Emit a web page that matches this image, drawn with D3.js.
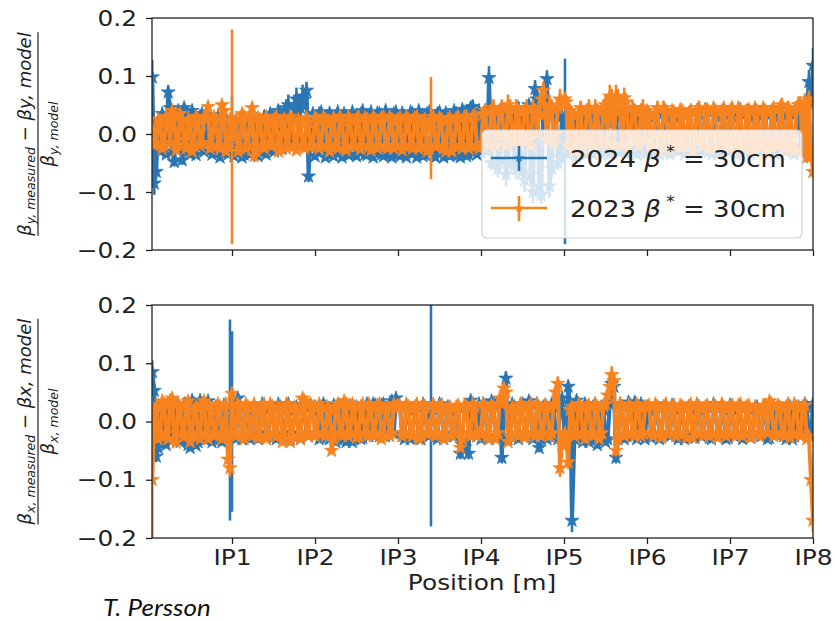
<!DOCTYPE html>
<html>
<head>
<meta charset="utf-8">
<script src="https://cdn.jsdelivr.net/npm/d3@7"></script>
<style>
  body { margin: 0; background: #fff; }
  svg { display: block; }
</style>
</head>
<body>
<svg id="chart" width="835" height="621"></svg>
<script>
// Interaction points and their longitudinal positions around the ring [m]
const ipLabels = ["IP1", "IP2", "IP3", "IP4", "IP5", "IP6", "IP7", "IP8"];
const ipPositions = [3332.4, 6664.9, 9997.3, 13329.8, 16662.2, 19994.6, 23327.1, 26659.5];
const xDomain = [120, 26659.5];
const yTicks = [-0.2, -0.1, 0.0, 0.1, 0.2];
const seriesNames = ["2024", "2023"];

// BPM positions [m], one row per arc/octant
const bpmPositions = [
  130, 210, 290, 370, 450, 530, 610, 690, 770, 850, 930, 1010, 1090, 1170, 1250, 1330, 1410, 1490, 1570, 1650,
  1730, 1810, 1890, 1970, 2050, 2130, 2210, 2290, 2370, 2450, 2530, 2610, 2690, 2770, 2850, 2930, 3010, 3090, 3170, 3250,
  3332, 3410, 3490, 3570, 3650, 3735, 3815, 3895, 3975, 4055, 4140, 4220, 4300, 4380, 4460, 4545, 4625, 4705, 4785, 4865,
  4950, 5030, 5110, 5190, 5270, 5355, 5435, 5515, 5595, 5675, 5760, 5840, 5920, 6000, 6080, 6165, 6245, 6325, 6405, 6485, 6580,
  6665, 6750, 6830, 6915, 7000, 7080, 7165, 7250, 7330, 7415, 7500, 7580, 7665, 7750, 7830, 7915, 8000, 8080, 8165, 8250,
  8330, 8415, 8500, 8580, 8665, 8750, 8830, 8915, 9000, 9080, 9165, 9250, 9330, 9415, 9500, 9580, 9665, 9750, 9830, 9915,
  9997, 10080, 10165, 10250, 10330, 10415, 10500, 10580, 10665, 10750, 10830, 10915, 11000, 11080, 11165, 11250, 11321, 11415, 11500, 11580,
  11665, 11750, 11830, 11915, 12000, 12080, 12165, 12250, 12330, 12415, 12500, 12580, 12665, 12750, 12830, 12915, 13000, 13080, 13165, 13250,
  13330, 13415, 13500, 13580, 13650, 13750, 13830, 13915, 14000, 14080, 14165, 14250, 14330, 14415, 14500, 14580, 14665, 14750, 14830, 14915,
  15000, 15080, 15165, 15250, 15330, 15415, 15500, 15580, 15665, 15750, 15830, 15915, 15978, 16080, 16165, 16250, 16330, 16415, 16500, 16580,
  16701, 16750, 16830, 16910, 16983, 17080, 17165, 17250, 17330, 17415, 17500, 17580, 17665, 17750, 17830, 17915, 18000, 18080, 18165, 18250,
  18330, 18415, 18500, 18580, 18665, 18750, 18830, 18915, 19000, 19080, 19165, 19250, 19330, 19415, 19500, 19580, 19665, 19750, 19830, 19915,
  19995, 20080, 20165, 20250, 20330, 20415, 20500, 20580, 20665, 20750, 20830, 20915, 21000, 21080, 21165, 21250, 21330, 21415, 21500, 21580,
  21665, 21750, 21830, 21915, 22000, 22080, 22165, 22250, 22330, 22415, 22500, 22580, 22665, 22750, 22830, 22915, 23000, 23080, 23165, 23250,
  23327, 23410, 23495, 23580, 23660, 23745, 23830, 23910, 23995, 24080, 24160, 24245, 24330, 24410, 24495, 24580, 24660, 24745, 24830, 24910,
  24995, 25080, 25160, 25245, 25330, 25410, 25495, 25580, 25660, 25745, 25830, 25910, 25995, 26080, 26160, 26245, 26330, 26410, 26495, 26580, 26659
];

// Vertical beta-beating (Δβy/βy), 2024
const betaY2024 = [
  .098, -.085, -.065, .02, -.03, .035, .01, -.035, .072, .045, -.03, -.048, .03, .04, -.02, -.045, .045, .03, -.03, -.035,
  .04, .02, -.036, -.02, .03, .035, -.03, -.01, .02, .03, -.035, -.025, .025, .03, -.04, -.03, .02, .028, -.035, -.03,
  .025, -.038, -.03, .015, .02, -.04, -.035, .01, .02, -.035, -.03, .015, .025, -.038, -.03, .02, .03, -.035, -.025, .035,
  .03, -.03, -.02, .04, .035, -.025, -.02, .045, .05, -.02, -.015, .05, .06, -.01, .045, .065, .06, .075, -.073, .0, .035,
  -.038, -.03, .035, .038, -.02, -.04, .03, .036, -.035, -.038, .02, .038, -.03, -.04, .035, .03, -.036, -.035, .038, .025,
  -.038, -.03, .034, .04, -.035, -.036, .02, .038, -.04, -.03, .036, .035, -.035, -.038, .04, .03, -.036, -.04, .035, .038,
  -.035, -.038, .036, .03, -.04, -.03, .038, .035, -.032, -.04, .04, .025, -.038, -.035, .035, .038, .03, -.036, -.04, .035,
  .038, -.03, -.04, .036, .03, -.038, -.035, .04, .035, -.036, -.04, .042, .03, -.038, -.035, .045, .047, -.03, -.035, .04,
  -.03, .035, .04, -.03, .097, -.05, .04, .035, -.06, -.045, .045, .03, -.07, -.05, .04, .035, -.055, -.06, .045, .03,
  -.065, -.08, .04, .05, -.07, -.1, .078, .06, -.09, -.105, .045, .05, .095, -.09, -.06, .04, .035, -.05, -.04, .03,
  -.03, .03, -.035, -.03, .035, .03, -.04, -.03, .028, .035, -.02, -.035, .03, .033, -.035, -.01, .03, .035, -.035, -.03,
  .035, .02, -.035, -.03, .03, .035, -.032, -.03, .032, .03, -.035, -.025, .035, .03, -.03, -.035, .035, .028, -.03, -.035,
  .035, .03, -.03, -.035, .03, .035, -.035, -.02, .038, .03, -.03, -.035, .035, .03, -.025, -.03, .03, .035, -.035, -.03,
  .035, .04, -.02, -.03, .04, .035, -.03, -.025, .042, .04, -.03, -.035, .04, .035, -.035, -.03, .03, .035, -.02, -.03,
  .035, .03, -.03, -.035, .04, .042, -.025, -.03, .035, .03, -.035, -.03, .03, .035, -.02, -.03, .032, .035, -.03, -.035,
  .035, .03, -.035, -.03, .03, .035, -.015, -.03, .033, .035, -.03, -.035, .04, .035, -.02, -.03, .04, .05, .09, .06, .118
];
const betaY2024Err = [
  .03, .02, .01, .006, .006, .005, .006, .006, .012, .008, .006, .008, .006, .006, .005, .008, .008, .006, .006, .006,
  .006, .005, .006, .006, .006, .006, .005, .006, .006, .006, .006, .005, .006, .006, .006, .006, .005, .006, .006, .006,
  .04, .006, .006, .005, .006, .006, .006, .005, .006, .006, .006, .005, .006, .006, .006, .005, .006, .006, .006, .008,
  .008, .006, .006, .01, .01, .006, .006, .015, .018, .006, .006, .018, .02, .006, .015, .02, .018, .015, .01, .005, .006,
  .006, .005, .006, .006, .005, .006, .006, .005, .006, .006, .006, .005, .006, .006, .005, .006, .006, .005, .006, .006,
  .006, .005, .006, .006, .005, .006, .006, .005, .006, .006, .006, .005, .006, .006, .005, .006, .006, .005, .006, .006,
  .006, .005, .006, .006, .005, .006, .006, .005, .006, .006, .006, .005, .006, .006, .005, .006, .006, .005, .006, .006,
  .006, .005, .006, .006, .005, .006, .006, .005, .006, .006, .006, .005, .006, .006, .005, .01, .012, .006, .006, .005,
  .006, .008, .01, .006, .02, .012, .01, .008, .015, .012, .01, .006, .02, .015, .008, .006, .015, .018, .01, .006,
  .015, .02, .008, .01, .018, .02, .015, .01, .02, .015, .008, .01, .015, .02, .012, .008, .006, .012, .01, .006,
  .16, .006, .005, .006, .006, .005, .006, .006, .005, .006, .006, .005, .006, .006, .005, .006, .006, .005, .006, .006,
  .006, .005, .006, .006, .005, .006, .006, .005, .006, .006, .006, .005, .006, .006, .005, .006, .006, .005, .006, .006,
  .006, .005, .006, .006, .005, .006, .006, .005, .006, .006, .006, .005, .006, .006, .005, .006, .006, .005, .006, .006,
  .006, .005, .006, .006, .005, .006, .006, .005, .006, .006, .006, .005, .006, .006, .005, .006, .006, .005, .006, .006,
  .006, .005, .006, .006, .005, .006, .006, .005, .006, .006, .006, .005, .006, .006, .005, .006, .006, .005, .006, .006,
  .006, .005, .006, .006, .005, .006, .006, .005, .006, .006, .006, .005, .006, .006, .005, .006, .008, .01, .02, .015, .03
];

// Vertical beta-beating (Δβy/βy), 2023
const betaY2023 = [
  .01, -.02, -.015, .025, .02, -.025, -.02, .03, .025, -.015, .04, .03, -.028, -.02, .035, .025, -.01, -.025, .025, .02,
  -.03, -.02, .03, .025, -.02, -.015, .03, .025, .047, -.025, -.02, .03, .025, -.02, -.025, .05, .04, -.03, -.02, .025,
  -.005, .02, .025, -.03, -.025, .035, .03, -.025, -.02, .03, .045, -.038, -.03, .028, .025, -.02, -.025, .03, .02, -.015,
  -.02, .025, .03, -.03, -.025, .02, .025, -.025, -.02, .03, .025, -.02, -.028, .025, .02, -.022, -.025, .028, .02, -.022, -.02,
  .028, .025, -.025, -.02, .03, .025, -.02, -.03, .02, .028, -.018, -.025, .03, .022, -.025, -.028, .03, .025, -.02, -.022,
  .025, .03, -.026, -.02, .028, .025, -.022, -.028, .03, .025, -.025, -.02, .028, .03, -.022, -.025, .03, .025, -.025, -.02,
  .025, .028, -.028, -.02, .03, .025, -.02, -.025, .028, .03, -.025, -.02, .02, .025, -.03, -.025, .01, .03, -.022, -.02,
  .028, .025, -.025, -.03, .025, .028, -.03, -.02, .027, .03, -.02, -.025, .03, .028, -.025, -.02, .03, .032, -.02, -.025,
  -.02, .035, .04, -.015, -.02, .04, .045, -.02, .0, .04, .045, -.01, -.02, .05, .045, .0, -.015, .045, .04, -.02,
  .0, .04, .045, -.01, -.02, .045, .04, .0, .035, .06, .075, .035, -.01, .05, .045, -.015, .0, .045, .06, .055,
  .06, .055, -.02, .04, .035, -.03, -.01, .035, .045, -.025, -.01, .04, .045, .0, -.02, .045, .04, -.02, -.01, .045,
  .05, -.015, .065, .06, -.02, .065, .06, .04, -.02, .062, .055, -.02, .0, .045, .04, -.01, -.02, .04, .045, -.01,
  .04, .035, -.02, .0, .035, .045, -.03, -.01, .045, .04, .0, -.025, .04, .038, -.015, -.02, .042, .04, -.02, .0,
  .035, .04, -.03, -.01, .04, .045, -.01, -.02, .04, .042, -.025, .0, .045, .04, -.02, -.01, .04, .045, -.02, .0,
  .04, .045, -.03, -.015, .045, .04, -.015, -.025, .04, .042, -.01, -.03, .045, .04, -.02, -.015, .045, .04, -.03, -.02,
  .04, .045, -.015, -.02, .045, .05, -.025, -.015, .045, .04, -.025, -.03, .045, .05, .05, -.03, .055, -.04, .06, -.03, -.065
];
const betaY2023Err = [
  .006, .005, .006, .006, .005, .006, .006, .005, .006, .006, .006, .005, .006, .006, .005, .006, .006, .005, .006, .006,
  .006, .005, .006, .006, .005, .006, .006, .005, .006, .006, .006, .005, .006, .006, .005, .006, .006, .005, .006, .006,
  .185, .006, .005, .006, .006, .005, .006, .006, .005, .006, .01, .008, .006, .006, .005, .006, .006, .005, .006, .006,
  .006, .005, .006, .006, .005, .006, .006, .005, .006, .006, .006, .005, .006, .006, .005, .006, .006, .005, .006, .006, .006,
  .006, .005, .006, .006, .005, .006, .006, .005, .006, .006, .006, .005, .006, .006, .005, .006, .006, .005, .006, .006,
  .006, .005, .006, .006, .005, .006, .006, .005, .006, .006, .006, .005, .006, .006, .005, .006, .006, .005, .006, .006,
  .006, .005, .006, .006, .005, .006, .006, .005, .006, .006, .006, .005, .006, .006, .005, .006, .088, .006, .006, .005,
  .006, .005, .006, .006, .005, .006, .006, .005, .006, .006, .006, .005, .006, .006, .005, .006, .006, .005, .006, .006,
  .006, .01, .012, .006, .006, .012, .015, .006, .005, .012, .015, .006, .006, .018, .015, .005, .006, .015, .012, .006,
  .005, .012, .015, .006, .006, .015, .012, .005, .01, .018, .015, .01, .006, .018, .015, .006, .005, .015, .018, .012,
  .012, .012, .006, .01, .01, .006, .006, .01, .012, .006, .006, .012, .015, .005, .006, .015, .012, .006, .006, .015,
  .015, .006, .02, .018, .006, .02, .018, .012, .006, .018, .015, .006, .005, .012, .012, .006, .006, .012, .015, .006,
  .01, .01, .006, .005, .01, .012, .006, .006, .012, .01, .01, .01, .006, .005, .01, .012, .006, .006, .012, .01,
  .01, .01, .006, .005, .01, .012, .006, .006, .012, .01, .01, .01, .006, .005, .01, .012, .006, .006, .012, .01,
  .01, .01, .006, .005, .01, .012, .006, .006, .012, .01, .01, .01, .006, .005, .01, .012, .006, .006, .012, .01,
  .01, .01, .006, .005, .01, .012, .006, .006, .012, .01, .006, .006, .012, .015, .015, .006, .015, .01, .015, .01, .01
];

// Horizontal beta-beating (Δβx/βx), 2024
const betaX2024 = [
  .085, .053, -.06, -.045, .02, .03, -.035, -.04, .03, .035, -.03, -.02, .025, .03, -.035, -.03, .03, .025, -.04, -.045,
  .036, .03, -.041, -.035, .036, .03, -.03, -.03, .035, .025, -.035, -.03, .025, .02, -.03, -.035, .028, .025, -.03, .0025,
  .0, .03, -.03, .04, .025, -.03, -.025, .025, .02, -.03, -.025, .025, .02, -.03, -.02, .03, .025, -.028, -.025, .022,
  .025, -.025, -.03, .03, .025, -.02, -.025, .025, .03, -.03, -.02, .02, .025, -.025, -.03, .028, .025, -.02, -.025, .028, .02,
  .025, .02, -.03, -.028, .03, .025, -.025, -.03, .02, .028, -.035, -.03, .028, .022, -.03, -.035, .022, .025, -.035, -.03,
  .025, .02, -.03, -.028, .02, .03, -.025, -.02, .03, .028, -.02, -.025, .028, .03, -.025, -.02, .03, .035, -.02, .04,
  .03, .025, -.025, -.03, .028, .025, -.03, -.025, .02, .025, -.028, -.03, .03, .025, -.02, -.025, .01, .025, -.025, -.03,
  .03, .028, -.03, -.025, .025, .02, -.02, -.025, .02, .025, -.055, -.04, -.045, -.03, -.055, .036, .03, -.02, -.025, .03,
  -.03, .03, .025, -.025, -.03, .035, .03, -.03, -.025, .03, -.062, .02, .074, -.03, -.025, .03, .025, -.025, -.03, .028,
  .03, -.025, -.02, .035, .03, -.03, -.025, .03, -.045, -.03, .025, .028, -.03, -.025, .03, .025, -.025, -.03, .025, .04,
  -.03, -.02, .06, .03, -.17, -.03, .036, .03, -.02, -.035, .03, .025, -.035, -.03, .025, .03, -.04, -.03, .025, .02,
  -.035, -.03, .03, .065, .06, -.062, -.03, .03, .025, -.03, -.025, .033, .028, -.025, .033, -.03, -.025, .03, .025, -.03,
  .025, .02, -.028, -.025, .02, .025, -.03, -.02, .025, .028, -.02, -.025, .028, .022, -.025, -.03, .022, .025, -.03, -.025,
  .025, .02, -.02, -.028, .028, .025, -.025, -.02, .02, .025, -.028, -.03, .03, .025, -.022, -.025, .025, .02, -.03, -.028,
  .028, .025, -.025, -.02, .02, .025, -.03, -.025, .025, .022, -.028, -.02, .022, .025, -.02, -.025, .025, .02, -.03, -.028,
  .028, .025, -.022, -.02, .02, .022, -.025, -.03, .028, .025, -.03, -.025, .02, .025, -.025, -.02, .03, .025, -.02, -.025, .03
];
const betaX2024Err = [
  .02, .012, .01, .008, .006, .005, .006, .006, .005, .006, .006, .005, .006, .006, .005, .006, .006, .005, .006, .006,
  .006, .005, .006, .006, .005, .006, .006, .005, .006, .006, .006, .005, .006, .006, .005, .006, .006, .005, .006, .1725,
  .155, .006, .005, .008, .006, .005, .006, .006, .005, .006, .006, .005, .006, .006, .005, .006, .006, .005, .006, .006,
  .006, .005, .006, .006, .005, .006, .006, .005, .006, .006, .006, .005, .006, .006, .005, .006, .006, .005, .006, .006, .006,
  .006, .005, .006, .006, .005, .006, .006, .005, .006, .006, .006, .005, .006, .006, .005, .006, .006, .005, .006, .006,
  .006, .005, .006, .006, .005, .006, .006, .005, .006, .006, .006, .005, .006, .006, .005, .006, .006, .005, .006, .006,
  .006, .005, .006, .006, .005, .006, .006, .005, .006, .006, .006, .005, .006, .006, .005, .006, .19, .006, .006, .005,
  .006, .005, .006, .006, .005, .006, .006, .005, .006, .006, .01, .008, .008, .006, .01, .006, .006, .005, .006, .006,
  .006, .005, .006, .006, .005, .006, .006, .005, .006, .006, .01, .006, .012, .006, .005, .006, .006, .005, .006, .006,
  .006, .005, .006, .006, .005, .006, .006, .005, .008, .006, .006, .005, .006, .006, .005, .006, .006, .005, .006, .006,
  .006, .006, .01, .006, .02, .006, .006, .005, .006, .006, .006, .005, .006, .006, .005, .006, .006, .005, .006, .006,
  .006, .005, .006, .01, .01, .01, .006, .005, .006, .006, .006, .005, .006, .006, .005, .006, .006, .005, .006, .006,
  .006, .005, .006, .006, .005, .006, .006, .005, .006, .006, .006, .005, .006, .006, .005, .006, .006, .005, .006, .006,
  .006, .005, .006, .006, .005, .006, .006, .005, .006, .006, .006, .005, .006, .006, .005, .006, .006, .005, .006, .006,
  .006, .005, .006, .006, .005, .006, .006, .005, .006, .006, .006, .005, .006, .006, .005, .006, .006, .005, .006, .006,
  .006, .005, .006, .006, .005, .006, .006, .005, .006, .006, .006, .005, .006, .006, .005, .006, .006, .005, .006, .006, .006
];

// Horizontal beta-beating (Δβx/βx), 2023
const betaX2023 = [
  -.1, .02, .025, -.03, -.025, .035, .03, -.02, -.03, .035, .04, -.03, -.036, .03, .025, -.02, -.025, .03, .035, -.035,
  -.02, .02, .025, -.025, -.03, .03, .035, -.02, -.03, .025, .02, -.025, -.02, .03, .025, -.03, -.02, .03, -.065, -.08,
  .048, -.02, -.025, .03, .025, -.025, -.03, .03, .025, -.02, -.025, .03, .02, -.028, -.025, .025, .03, -.03, -.025, .03,
  .025, -.02, -.025, .025, .02, -.035, -.03, .03, .025, -.035, -.025, .025, .02, -.025, -.03, .04, .035, -.02, -.025, .03, .025,
  -.025, -.02, .03, .025, -.02, -.025, .025, .02, -.05, -.03, .025, .03, -.02, -.025, .035, .03, -.025, -.02, .03, .025,
  -.028, -.025, .025, .03, -.02, -.025, .03, .025, -.025, -.02, .028, .03, -.03, -.025, .022, .025, -.025, -.02, .03, .025,
  .028, .025, -.025, -.02, .03, .025, -.02, -.025, .025, .03, -.03, -.025, .028, .025, -.022, -.02, .0, .03, -.025, -.02,
  .025, .028, -.03, -.025, .02, .025, -.025, -.02, .025, .028, -.045, -.03, .028, .025, -.02, -.025, .03, .025, -.025, -.02,
  -.02, .03, .025, -.025, -.03, .028, .025, -.03, -.02, .04, .03, .057, .05, -.035, -.025, .025, .02, -.02, -.025, .03,
  .025, -.028, -.02, .025, .03, -.02, -.025, .03, .025, -.025, -.02, .028, .025, -.025, -.02, .03, .05, .065, -.08, -.04,
  -.02, -.03, -.07, .02, .025, -.025, -.02, .03, .025, -.02, -.03, .025, .028, -.02, -.025, .03, .025, -.03, -.02, .028,
  .03, .045, .06, .08, .07, -.05, -.03, .03, .025, -.025, -.02, .028, .025, -.02, -.025, .03, .025, -.025, -.02, .025,
  .025, .028, -.02, -.025, .03, .025, -.02, -.028, .025, .03, -.022, -.02, .025, .028, -.025, -.02, .028, .025, -.02, -.028,
  .025, .03, -.028, -.02, .03, .025, -.02, -.025, .025, .028, -.025, -.02, .028, .025, -.028, -.02, .03, .025, -.025, -.02,
  .025, .028, -.02, -.025, .028, .03, -.025, -.02, .025, .028, -.028, -.02, .025, .02, -.025, -.02, .025, .028, -.02, .035,
  .03, -.025, -.02, .028, .025, -.02, -.025, .025, .03, -.028, -.02, .03, .025, -.02, -.025, .025, .028, -.03, -.025, -.1, -.17
];
const betaX2023Err = [
  .12, .006, .005, .006, .006, .005, .006, .006, .005, .006, .006, .005, .006, .006, .005, .006, .006, .005, .006, .006,
  .006, .005, .006, .006, .005, .006, .006, .005, .006, .006, .006, .005, .006, .006, .005, .006, .006, .005, .012, .015,
  .01, .006, .005, .006, .006, .005, .006, .006, .005, .006, .006, .005, .006, .006, .005, .006, .006, .005, .006, .006,
  .006, .005, .006, .006, .005, .006, .006, .005, .006, .006, .006, .005, .006, .006, .005, .006, .006, .005, .006, .006, .006,
  .006, .005, .006, .006, .005, .006, .006, .005, .006, .006, .006, .005, .006, .006, .005, .006, .006, .005, .006, .006,
  .006, .005, .006, .006, .005, .006, .006, .005, .006, .006, .006, .005, .006, .006, .005, .006, .006, .005, .006, .006,
  .006, .005, .006, .006, .005, .006, .006, .005, .006, .006, .006, .005, .006, .006, .005, .006, .006, .005, .006, .006,
  .006, .005, .006, .006, .005, .006, .006, .005, .006, .006, .006, .005, .006, .006, .005, .006, .006, .005, .006, .006,
  .006, .005, .006, .006, .005, .006, .006, .005, .006, .006, .006, .01, .008, .006, .005, .006, .006, .005, .006, .006,
  .006, .005, .006, .006, .005, .006, .006, .005, .006, .006, .006, .005, .006, .006, .005, .006, .01, .012, .015, .006,
  .006, .006, .012, .006, .005, .006, .006, .005, .006, .006, .006, .005, .006, .006, .005, .006, .006, .005, .006, .006,
  .006, .01, .012, .015, .012, .01, .006, .005, .006, .006, .006, .005, .006, .006, .005, .006, .006, .005, .006, .006,
  .006, .005, .006, .006, .005, .006, .006, .005, .006, .006, .006, .005, .006, .006, .005, .006, .006, .005, .006, .006,
  .006, .005, .006, .006, .005, .006, .006, .005, .006, .006, .006, .005, .006, .006, .005, .006, .006, .005, .006, .006,
  .006, .005, .006, .006, .005, .006, .006, .005, .006, .006, .006, .005, .006, .006, .005, .006, .006, .005, .006, .006,
  .006, .005, .006, .006, .005, .006, .006, .005, .006, .006, .006, .005, .006, .006, .005, .006, .006, .005, .006, .02, .02
];

const colors = { "2024": "#2a76b5", "2023": "#f7831f" };
const FONT = "'DejaVu Sans', sans-serif";
const STRETCH = 1.13;
const LINE_W = 4;
const BAR_W = 2.6;

const svg = d3.select("#chart");
const plotLeft = 152, plotRight = 813;
const x = d3.scaleLinear().domain(xDomain).range([plotLeft, plotRight]);
const fmt = d3.format(".1f");

// widen horizontal text slightly about its anchor point
function widen(sel, k = STRETCH) {
  sel.each(function () {
    const t = d3.select(this);
    const x0 = +t.attr("x") || 0;
    t.attr("transform", `translate(${x0 * (1 - k)},0) scale(${k},1)`);
  });
}

const panels = [
  { id: "y", top: 18, bottom: 250, plane: "y",
    series: [{ name: "2024", v: betaY2024, e: betaY2024Err }, { name: "2023", v: betaY2023, e: betaY2023Err }] },
  { id: "x", top: 305, bottom: 538, plane: "x",
    series: [{ name: "2024", v: betaX2024, e: betaX2024Err }, { name: "2023", v: betaX2023, e: betaX2023Err }] }
];

const star = d3.symbol().type(d3.symbolStar).size(62);
const legendStar = d3.symbol().type(d3.symbolStar).size(30);

panels.forEach((p, pi) => {
  const y = d3.scaleLinear().domain([-0.2, 0.2]).range([p.bottom, p.top]);
  const g = svg.append("g");

  const clipId = "clip-" + p.id;
  svg.append("clipPath").attr("id", clipId)
    .append("rect").attr("x", plotLeft).attr("y", p.top)
    .attr("width", plotRight - plotLeft).attr("height", p.bottom - p.top);

  const data = g.append("g").attr("clip-path", `url(#${clipId})`);
  p.series.forEach(s => {
    const pts = bpmPositions.map((pos, i) => ({ pos, v: s.v[i], e: s.e[i] }));
    const c = colors[s.name];
    const sg = data.append("g");
    sg.append("g").selectAll("line").data(pts).join("line")
      .attr("x1", d => x(d.pos)).attr("x2", d => x(d.pos))
      .attr("y1", d => y(d.v - d.e)).attr("y2", d => y(d.v + d.e))
      .attr("stroke", c).attr("stroke-width", BAR_W);
    sg.append("path").datum(pts)
      .attr("d", d3.line().x(d => x(d.pos)).y(d => y(d.v)))
      .attr("fill", "none").attr("stroke", c).attr("stroke-width", LINE_W)
      .attr("stroke-linejoin", "round");
    sg.append("g").selectAll("path").data(pts).join("path")
      .attr("transform", d => `translate(${x(d.pos)},${y(d.v)})`)
      .attr("d", star).attr("fill", c).attr("stroke", c).attr("stroke-width", 0.8);
  });

  // y axis
  const ya = g.append("g").attr("transform", `translate(${plotLeft},0)`)
    .call(d3.axisLeft(y).tickValues(yTicks).tickFormat(fmt).tickSize(6).tickPadding(9).tickSizeOuter(0));
  ya.select(".domain").remove();
  ya.selectAll(".tick line").attr("stroke", "#222").attr("stroke-width", 1.3);
  ya.selectAll(".tick text").attr("font-family", FONT).attr("font-size", 22).attr("fill", "#222").call(widen);

  // x axis (labels only on the lower panel)
  const xa = g.append("g").attr("transform", `translate(0,${p.bottom})`)
    .call(d3.axisBottom(x).tickValues(ipPositions).tickFormat((d, i) => pi === 1 ? ipLabels[i] : "")
      .tickSize(6).tickPadding(5).tickSizeOuter(0));
  xa.select(".domain").remove();
  xa.selectAll(".tick line").attr("stroke", "#222").attr("stroke-width", 1.3);
  xa.selectAll(".tick text").attr("font-family", FONT).attr("font-size", 22).attr("fill", "#222").call(widen);

  // frame
  g.append("rect").attr("x", plotLeft).attr("y", p.top)
    .attr("width", plotRight - plotLeft).attr("height", p.bottom - p.top)
    .attr("fill", "none").attr("stroke", "#222").attr("stroke-width", 1.3);

  // fraction-style y label
  const cy = (p.top + p.bottom) / 2;
  const lab = svg.append("g").attr("transform", `translate(38,${cy}) rotate(-90)`)
    .attr("font-family", FONT).attr("font-size", 18).attr("fill", "#222");
  const num = lab.append("text").attr("x", 0).attr("y", -7).attr("text-anchor", "middle");
  num.append("tspan").attr("font-style", "italic").text("β");
  num.append("tspan").attr("font-size", 12.5).attr("dy", 4).attr("font-style", "italic").text(`${p.plane}, measured`);
  num.append("tspan").attr("dy", -4).text(" − ");
  num.append("tspan").attr("font-style", "italic").text(`β${p.plane}, model`);
  const den = lab.append("text").attr("x", 0).attr("y", 16).attr("text-anchor", "middle");
  den.append("tspan").attr("font-style", "italic").text("β");
  den.append("tspan").attr("font-size", 12.5).attr("dy", 4).attr("font-style", "italic").text(`${p.plane}, model`);
  const w = num.node().getComputedTextLength();
  lab.append("line").attr("x1", -w / 2).attr("x2", w / 2).attr("y1", 0).attr("y2", 0)
    .attr("stroke", "#222").attr("stroke-width", 1.2);

  // legend in the upper panel
  if (pi === 0) {
    const lg = svg.append("g");
    lg.append("rect").attr("x", 482).attr("y", 130).attr("width", 320).attr("height", 108)
      .attr("rx", 5).attr("fill", "#fff").attr("fill-opacity", 0.8)
      .attr("stroke", "#d0d0d0").attr("stroke-width", 1.2);
    seriesNames.forEach((name, i) => {
      const ly = 158 + i * 50;
      const c = colors[name];
      lg.append("line").attr("x1", 491).attr("x2", 547).attr("y1", ly).attr("y2", ly)
        .attr("stroke", c).attr("stroke-width", 2.6);
      lg.append("line").attr("x1", 519).attr("x2", 519).attr("y1", ly - 12).attr("y2", ly + 13)
        .attr("stroke", c).attr("stroke-width", BAR_W);
      lg.append("path").attr("transform", `translate(519,${ly})`).attr("d", legendStar).attr("fill", c);
      const t = lg.append("text").attr("x", 570).attr("y", ly + 9)
        .attr("font-family", FONT).attr("font-size", 23).attr("fill", "#222");
      t.append("tspan").text(name + " ");
      t.append("tspan").attr("font-style", "italic").text("β");
      t.append("tspan").attr("font-size", 15).attr("dy", -10).text(" *");
      t.append("tspan").attr("dy", 10).text(" = 30cm");
      widen(t);
    });
  }
});

// axis title and credit
svg.append("text").attr("x", 482).attr("y", 590).attr("text-anchor", "middle")
  .attr("font-family", FONT).attr("font-size", 22).attr("fill", "#222")
  .text("Position [m]").call(widen);
svg.append("text").attr("x", 103).attr("y", 616)
  .attr("font-family", "Lato, sans-serif").attr("font-style", "italic").attr("font-size", 23).attr("fill", "#111")
  .text("T. Persson").call(widen);
</script>
</body>
</html>
